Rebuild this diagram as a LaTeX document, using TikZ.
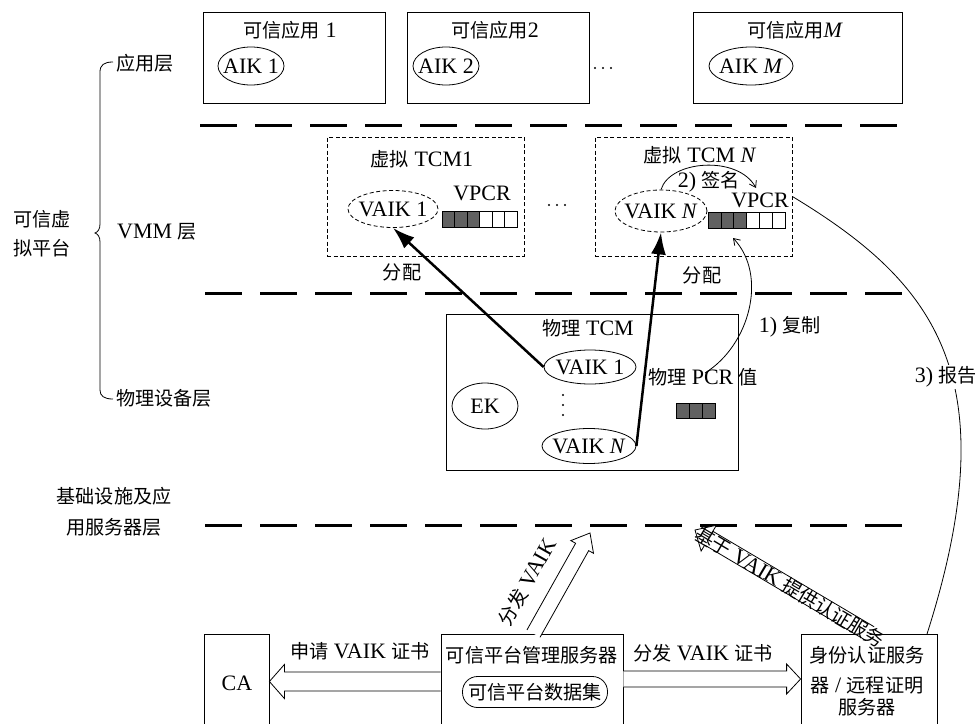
\documentclass[tikz,border=0pt]{standalone}
\usepackage{fontspec}
\setmainfont{Liberation Serif}
\newfontfamily\cjkfont[Scale=0.87]{Noto Sans CJK SC}
\newcommand\zh[1]{{\cjkfont #1}}
\usetikzlibrary{calc,arrows.meta,shapes.geometric}
\newcommand\hollowarrow[5]{%
  \coordinate (hab) at ($(#2)!#5!(#1)$);
  \draw[line width=0.8pt, fill=white, line join=miter]
    ($(#1)!#3!90:(#2)$) -- ($(hab)!#3!-90:(#1)$) -- ($(hab)!#4!-90:(#1)$) -- (#2)
    -- ($(hab)!#4!90:(#1)$) -- ($(hab)!#3!90:(#1)$) -- ($(#1)!#3!-90:(#2)$);
}
\begin{document}
\begin{tikzpicture}[x=1pt,y=-1pt,
  every node/.style={font=\fontsize{22}{26}\selectfont, inner sep=0pt},
  box/.style={draw, line width=0.8pt, rectangle},
  dbox/.style={draw, line width=0.8pt, dash pattern=on 4pt off 2.5pt},
  ell/.style={draw, ellipse, line width=0.8pt},
  dell/.style={draw, ellipse, line width=0.8pt, dash pattern=on 4pt off 2.5pt},
  layerline/.style={line width=3pt, dash pattern=on 37pt off 18pt},
  thickarrow/.style={line width=2.5pt, -{Latex[length=22pt,width=15pt]}},
  thinarrow/.style={line width=0.8pt, -{Straight Barb[length=6pt,width=8pt]}},
  hatched/.style={draw, line width=0.6pt, fill=black!62},
  plain/.style={draw, line width=0.6pt, fill=white},
  dot/.style={circle, fill=black, minimum size=2.4pt, inner sep=0pt},
]
\useasboundingbox (0,0) rectangle (980,723);

% ---- left brace and layer labels
\draw[line width=0.8pt] (113,62) .. controls (104,62) and (100,65) .. (100,72) -- (100,224)
  .. controls (100,229) and (98,232) .. (95,233) .. controls (98,234) and (100,237) .. (100,242)
  -- (100,390) .. controls (100,396) and (104,399) .. (113,399);
\node[anchor=west] (lapp) at (116,63) {\zh{应用层}};
\node[anchor=west] (lvmm) at (117,232) {VMM \zh{层}};
\node[anchor=west] (lphy) at (116,398) {\zh{物理设备层}};
\node[align=center, font=\fontsize{22}{29}\selectfont] (ltvp) at (42,234) {\zh{可信虚}\\\zh{拟平台}};
\node[align=center, font=\fontsize{22}{31}\selectfont] (linfra) at (114,512) {\zh{基础设施及应}\\\zh{用服务器层}};

% ---- application layer
\node[box, minimum width=182pt, minimum height=91pt] (app1) at (294,58) {};
\node[box, minimum width=182pt, minimum height=91pt] (app2) at (498,58) {};
\node[box, minimum width=209pt, minimum height=91pt] (app3) at (797.5,58) {};
\node (app1t) at (290,30) {\zh{可信应用} 1};
\node (app2t) at (495,30) {\zh{可信应用}2};
\node (app3t) at (795,30) {\zh{可信应用}\textit{M}};
\node[ell, minimum width=66pt, minimum height=38pt] (aik1) at (251,66) {\makebox[0pt]{AIK 1}};
\node[ell, minimum width=66pt, minimum height=38pt] (aik2) at (446,66) {\makebox[0pt]{AIK 2}};
\node[ell, minimum width=84pt, minimum height=38pt] (aikm) at (751,66) {\makebox[0pt]{AIK \textit{M}}};
\node[dot] (d11) at (595,68) {};
\node[dot] (d12) at (603,68) {};
\node[dot] (d13) at (611,68) {};

% ---- layer separators
\draw[layerline] (200,125) -- (905,125);
\draw[layerline] (205,293) -- (905,293);
\draw[layerline] (205,525) -- (905,525);

% ---- VMM layer
\node[dbox, minimum width=197pt, minimum height=119pt] (vt1) at (425.5,196.5) {};
\node[dbox, minimum width=197pt, minimum height=119pt] (vtN) at (693.5,196.5) {};
\node (vt1t) at (422,159) {\zh{虚拟} TCM1};
\node (vtNt) at (700,155) {\zh{虚拟} TCM \textit{N}};
\node[dell, minimum width=90pt, minimum height=37pt] (v1) at (393,209) {\makebox[0pt]{VAIK 1}};
\node[dell, minimum width=92pt, minimum height=42pt] (vN) at (661,211) {\makebox[0pt]{VAIK \textit{N}}};
\node (vpcr1) at (482,193) {VPCR};
\node (vpcrN) at (760,200) {VPCR};
\foreach \i in {0,1,2} \draw[hatched] ({442+12.5*\i},211) rectangle ++(12.5,16);
\foreach \i in {3,4,5} \draw[plain] ({442+12.5*\i},211) rectangle ++(12.5,16);
\foreach \i in {0,1,2} \draw[hatched] ({708+12.8*\i},212) rectangle ++(12.8,16);
\foreach \i in {3,4,5} \draw[plain] ({708+12.8*\i},212) rectangle ++(12.8,16);
\node[dot] (d21) at (549,205) {};
\node[dot] (d22) at (557,205) {};
\node[dot] (d23) at (565,205) {};
\node (sign) at (709,182) {2) \zh{签名}};
\node (alloc1) at (402,272) {\zh{分配}};
\node (alloc2) at (702,275) {\zh{分配}};

% ---- physical layer
\node[box, minimum width=292pt, minimum height=156pt] (ptcm) at (592,392) {};
\node (ptcmt) at (588,328) {\zh{物理} TCM};
\node[ell, minimum width=92pt, minimum height=34pt] (p1) at (590,367) {\makebox[0pt]{VAIK 1}};
\node[ell, minimum width=94pt, minimum height=35pt] (pN) at (589,446) {\makebox[0pt]{VAIK \textit{N}}};
\node[ell, minimum width=66pt, minimum height=46pt] (ek) at (485,406) {\makebox[0pt]{EK}};
\node[dot] (d31) at (563,395) {};
\node[dot] (d32) at (563,405) {};
\node[dot] (d33) at (563,415) {};
\node (pcrl) at (703,377) {\zh{物理} PCR \zh{值}};
\foreach \i in {0,1,2} \draw[hatched] ({676+13*\i},403) rectangle ++(13,15);

% ---- arrows in platform
\draw[thickarrow] (p1.west) -- (v1.south);
\draw[thickarrow] (pN.east) -- (vN.south);
\coordinate (sigend) at (756,188);
\draw[thinarrow] (vN.north) .. controls (670,160) and (738,155) .. (sigend);
\coordinate (cpstart) at (705,373);
\coordinate (cpend) at (733,238);
\draw[thinarrow] (cpstart) .. controls (750,345) and (768,275) .. (cpend);
\node (copyl) at (790,327) {1) \zh{复制}};

% ---- infrastructure layer
\node[box, minimum width=65pt, minimum height=101pt] (ca) at (236.5,684.5) {};
\node (cat) at (237,683) {CA};
\node[box, minimum width=182pt, minimum height=101pt] (mgr) at (532,684.5) {};
\node (mgrt) at (532,655) {\zh{可信平台管理服务器}};
\node[draw, line width=0.8pt, rounded corners=15pt, minimum width=145pt, minimum height=31pt] (db) at (535,692) {\zh{可信平台数据集}};
\node[box, minimum width=136pt, minimum height=101pt] (idb) at (869,684.5) {};
\node (idt1) at (867,655) {\zh{身份认证服务}};
\node (idt2) at (867,685) {\zh{器} / \zh{远程证明}};
\node (idt3) at (867,707) {\zh{服务器}};

\coordinate (h1s) at ($(mgr.west)+(0,-3)$);
\coordinate (h1t) at ($(ca.east)+(0,-3)$);
\hollowarrow{h1s}{h1t}{9.5pt}{17pt}{15pt}
\coordinate (h2s) at ($(mgr.east)+(0,-5.5)$);
\coordinate (h2t) at ($(idb.west)+(0,-5.5)$);
\hollowarrow{h2s}{h2t}{8pt}{15pt}{14pt}
\coordinate (h3s) at ($(mgr.north)+(1.5,0)$);
\coordinate (h3t) at (590,533);
\hollowarrow{h3s}{h3t}{7.5pt}{13pt}{16pt}
\coordinate (h4s) at ($(idb.north)+(1,0)$);
\coordinate (h4t) at (695,530);
\hollowarrow{h4s}{h4t}{8pt}{15pt}{16pt}
\node[rotate=60.6] (h3l) at (527,582) {\zh{分发} VAIK};
\node[rotate=-30.7] (h4l) at (790,587) {\zh{基于} VAIK \zh{提供认证服务}};
\node (reql) at (360,651) {\zh{申请} VAIK \zh{证书}};
\node (distl) at (703,653) {\zh{分发} VAIK \zh{证书}};

% ---- report curve
\coordinate (rpend) at (927,634);
\draw[line width=0.8pt] (vtN.east) .. controls (932,281) and (1010,374) .. (rpend);
\node[fill=white, inner sep=2pt] (repl) at (946,377) {3) \zh{报告}};
\end{tikzpicture}
\end{document}
